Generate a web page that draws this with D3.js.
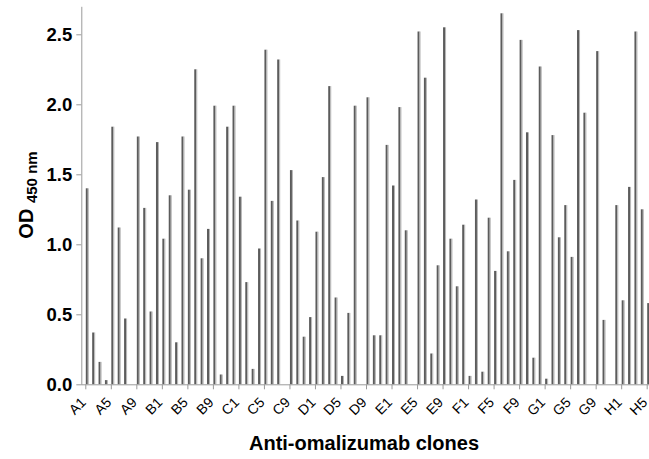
<!DOCTYPE html>
<html>
<head>
<meta charset="utf-8">
<script src="https://cdn.jsdelivr.net/npm/d3@7"></script>
<style>
  body { margin: 0; background: #fff; }
  text { font-family: "Liberation Sans", Arial, sans-serif; }
</style>
</head>
<body>
<div id="chartDiv"></div>
<script>
// plate rows, 12 wells each; the plate stops at H5
var rows = ["A", "B", "C", "D", "E", "F", "G", "H"];
var clones = [];
rows.forEach(function (r) {
    for (var c = 1; c <= 12; c++) clones.push(r + c);
});
clones = clones.slice(0, 89);

// OD 450 nm read per clone
var od = [
    1.40, 0.37, 0.16, 0.03, 1.84, 1.12, 0.47, 0.00, 1.77, 1.26, 0.52, 1.73,
    1.04, 1.35, 0.30, 1.77, 1.39, 2.25, 0.90, 1.11, 1.99, 0.07, 1.84, 1.99,
    1.34, 0.73, 0.11, 0.97, 2.39, 1.31, 2.32, 0.00, 1.53, 1.17, 0.34, 0.48,
    1.09, 1.48, 2.13, 0.62, 0.06, 0.51, 1.99, 0.00, 2.05, 0.35, 0.35, 1.71,
    1.42, 1.98, 1.10, 0.00, 2.52, 2.19, 0.22, 0.85, 2.55, 1.04, 0.70, 1.14,
    0.06, 1.32, 0.09, 1.19, 0.81, 2.65, 0.95, 1.46, 2.46, 1.80, 0.19, 2.27,
    0.04, 1.78, 1.05, 1.28, 0.91, 2.53, 1.94, 0.00, 2.38, 0.46, 0.00, 1.28,
    0.60, 1.41, 2.52, 1.25, 0.58
];
var yTicks = [0, 0.5, 1.0, 1.5, 2.0, 2.5];

var width = 649, height = 459;
var svg = d3.select("#chartDiv").append("svg")
    .attr("width", width)
    .attr("height", height);

var x = d3.scalePoint()
    .domain(clones)
    .range([85.3, 646.7]);
var y = d3.scaleLinear()
    .domain([0, 2.7])
    .range([384.3, 6.3]);

var data = clones.map(function (c, i) { return { name: c, value: od[i] }; });

// bars: dark body with a light right edge
var bars = svg.append("g").attr("class", "bars");
bars.selectAll("rect.body")
    .data(data)
    .enter().append("rect")
    .attr("class", "body")
    .attr("x", function (d) { return x(d.name) + 0.5; })
    .attr("y", function (d) { return y(d.value); })
    .attr("width", 2)
    .attr("height", function (d) { return y(0) - y(d.value); })
    .style("fill", "#5c5c5c");
bars.selectAll("rect.edge")
    .data(data)
    .enter().append("rect")
    .attr("class", "edge")
    .attr("x", function (d) { return x(d.name) + 2.5; })
    .attr("y", function (d) { return y(d.value); })
    .attr("width", 1)
    .attr("height", function (d) { return y(0) - y(d.value); })
    .style("fill", "#b4b4b4");

// y axis
var yAxis = svg.append("g")
    .attr("transform", "translate(81.3,0)")
    .call(d3.axisLeft(y).tickValues(yTicks).tickFormat(d3.format(".1f")).tickSize(5).tickSizeOuter(0));
yAxis.select(".domain").style("stroke", "#9a9a9a");
yAxis.selectAll(".tick line").style("stroke", "#9a9a9a");
yAxis.selectAll(".tick text")
    .attr("x", -9)
    .style("font-size", "18.5px")
    .style("font-weight", "bold")
    .style("fill", "#000");

// x axis
var xAxis = svg.append("g")
    .attr("transform", "translate(0,384.3)")
    .call(d3.axisBottom(x)
        .tickValues(clones.filter(function (d, i) { return i % 4 === 0; }))
        .tickSize(5).tickSizeOuter(0));
xAxis.select(".domain").attr("d", "M81.3,0.5H649").style("stroke", "#9a9a9a");
xAxis.selectAll(".tick line").style("stroke", "#9a9a9a");
xAxis.selectAll(".tick text")
    .attr("y", 0)
    .attr("dy", 0)
    .attr("transform", "translate(1,19) rotate(-45)")
    .style("text-anchor", "end")
    .style("font-size", "14px")
    .style("fill", "#000");

// axis titles
svg.append("text")
    .attr("x", 364)
    .attr("y", 450)
    .attr("text-anchor", "middle")
    .style("font-size", "20px")
    .style("font-weight", "bold")
    .text("Anti-omalizumab clones");

var yTitle = svg.append("text")
    .attr("transform", "translate(33,195) rotate(-90)")
    .attr("text-anchor", "middle")
    .style("font-weight", "bold");
yTitle.append("tspan").style("font-size", "20px").text("OD ");
yTitle.append("tspan").style("font-size", "15px").attr("dy", 4).text("450 nm");
</script>
</body>
</html>
